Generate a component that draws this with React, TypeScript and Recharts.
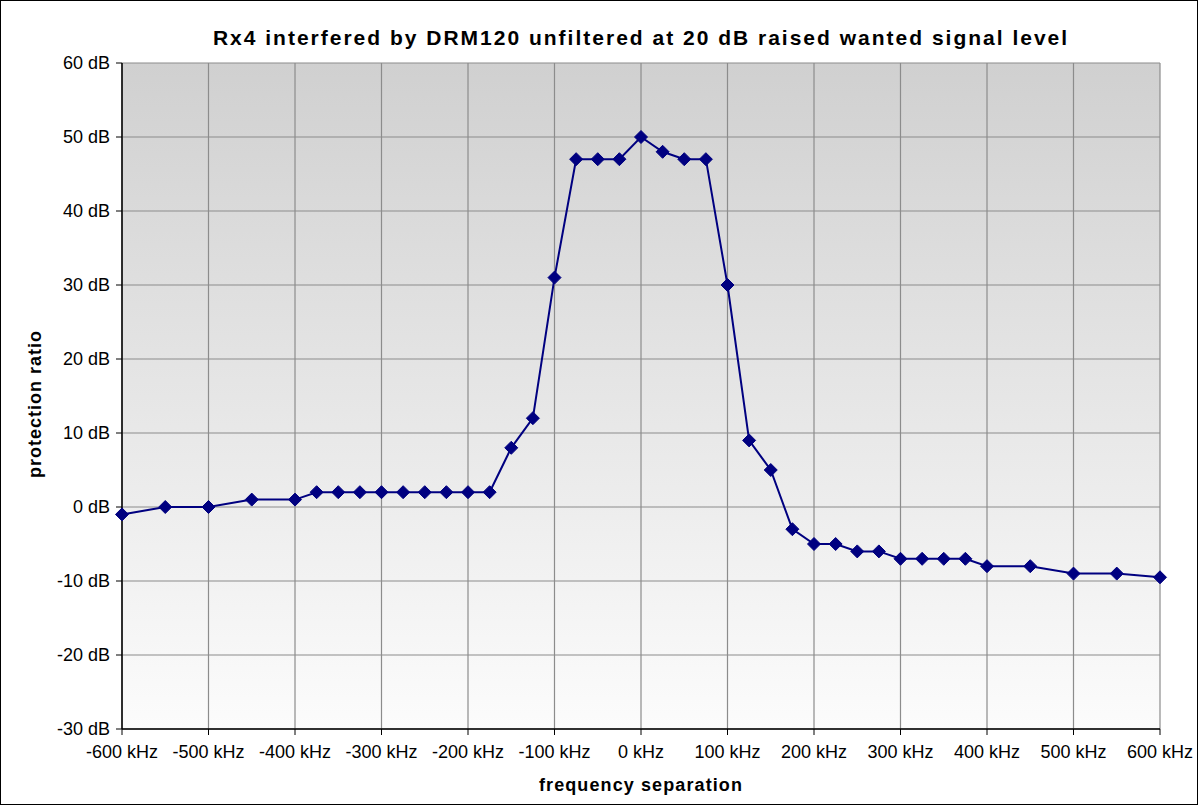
import React from 'react';
import { LineChart, Line, XAxis, YAxis, CartesianGrid } from 'recharts';

// frequency separation (kHz) and protection ratio (dB)
const freqs = [
  -600, -550, -500, -450, -400, -375, -350, -325, -300, -275, -250, -225, -200, -175,
  -150, -125, -100, -75, -50, -25, 0, 25, 50, 75, 100, 125, 150, 175, 200, 225, 250,
  275, 300, 325, 350, 375, 400, 450, 500, 550, 600,
];
const ratios = [
  -1, 0, 0, 1, 1, 2, 2, 2, 2, 2, 2, 2, 2, 2,
  8, 12, 31, 47, 47, 47, 50, 48, 47, 47, 30, 9, 5, -3, -5, -5, -6,
  -6, -7, -7, -7, -7, -8, -8, -9, -9, -9.5,
];
const xTicks = [-600, -500, -400, -300, -200, -100, 0, 100, 200, 300, 400, 500, 600];
const yTicks = [-30, -20, -10, 0, 10, 20, 30, 40, 50, 60];

const data = freqs.map((f, i) => ({ f, pr: ratios[i] }));

const FONT = '"Liberation Sans", Arial, sans-serif';

const Diamond = (props: any) => {
  const { cx, cy, index } = props;
  if (cx == null || cy == null) return null;
  const r = 6.5;
  return (
    <path
      key={index}
      d={`M${cx},${cy - r} L${cx + r},${cy} L${cx},${cy + r} L${cx - r},${cy} Z`}
      fill="#000080"
      stroke="#000080"
    />
  );
};

export default function App() {
  return (
    <div
      style={{
        position: 'absolute', left: 0, top: 0, width: 1198, height: 805,
        boxSizing: 'border-box', border: '1px solid #000', background: '#fff',
        fontFamily: FONT,
      }}
    >
      <div style={{
        position: 'absolute', left: 0, top: 25, width: 1280, textAlign: 'center',
        fontWeight: 'bold', fontSize: 21, letterSpacing: 2, color: '#000',
      }}>
        Rx4 interfered by DRM120 unfiltered at 20 dB raised wanted signal level
      </div>
      <div style={{
        position: 'absolute', left: 34, top: 403, transform: 'translate(-50%, -50%) rotate(-90deg)',
        fontWeight: 'bold', fontSize: 18, letterSpacing: 1, whiteSpace: 'nowrap',
      }}>
        protection ratio
      </div>
      <div style={{
        position: 'absolute', left: 0, top: 774, width: 1280, textAlign: 'center',
        fontWeight: 'bold', fontSize: 18, letterSpacing: 1.1,
      }}>
        frequency separation
      </div>
      <div style={{ position: 'absolute', left: -1, top: -1 }}>
        <LineChart
          width={1198}
          height={805}
          data={data}
          margin={{ top: 63, right: 38, bottom: 0, left: 0 }}
        >
          <defs>
            <linearGradient id="bgGrad" x1="0" y1="0" x2="0" y2="1">
              <stop offset="0%" stopColor="#d0d0d0" />
              <stop offset="100%" stopColor="#fcfcfc" />
            </linearGradient>
          </defs>
          <CartesianGrid stroke="#8c8c8c" strokeWidth={1.2} fill="url(#bgGrad)" fillOpacity={1} />
          <XAxis
            dataKey="f"
            type="number"
            domain={[-600, 600]}
            ticks={xTicks}
            interval={0}
            height={76}
            tickSize={6}
            tickMargin={10}
            axisLine={{ stroke: '#000', strokeWidth: 1.5 }}
            tickLine={{ stroke: '#000' }}
            tick={{ fill: '#000', fontSize: 18, fontFamily: FONT }}
            tickFormatter={(v: number) => `${v} kHz`}
          />
          <YAxis
            type="number"
            domain={[-30, 60]}
            ticks={yTicks}
            interval={0}
            width={122}
            tickSize={6}
            tickMargin={6}
            axisLine={{ stroke: '#000', strokeWidth: 1.5 }}
            tickLine={{ stroke: '#000' }}
            tick={{ fill: '#000', fontSize: 18, fontFamily: FONT }}
            tickFormatter={(v: number) => `${v} dB`}
          />
          <Line
            dataKey="pr"
            type="linear"
            stroke="#000080"
            strokeWidth={2}
            dot={Diamond}
            activeDot={false}
            isAnimationActive={false}
          />
        </LineChart>
      </div>
    </div>
  );
}
